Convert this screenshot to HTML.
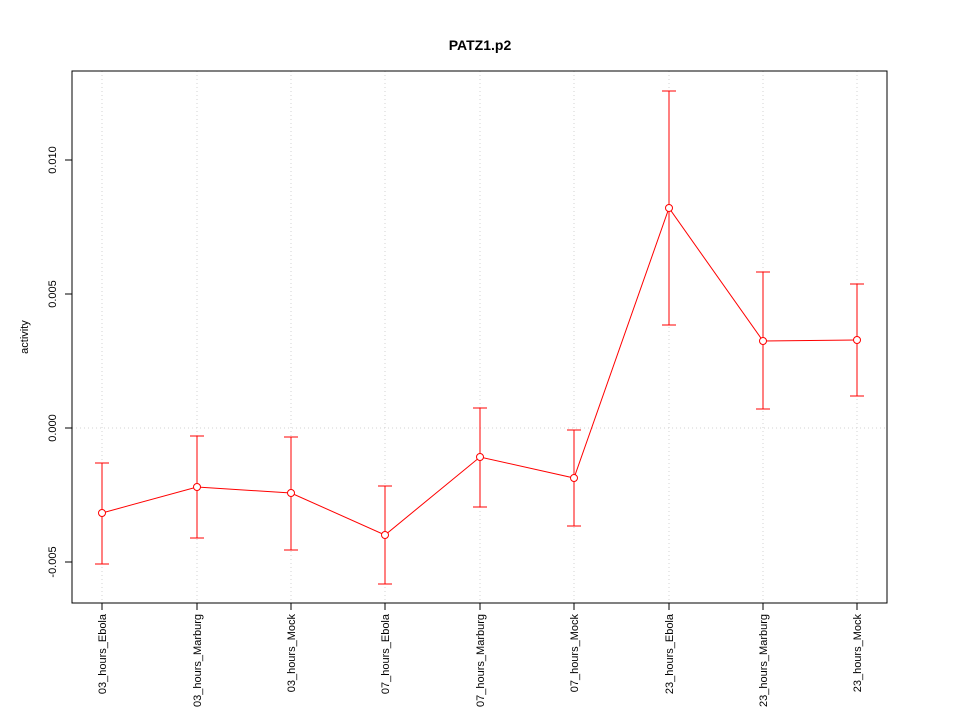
<!DOCTYPE html>
<html><head><meta charset="utf-8"><style>body{margin:0;background:#fff}svg{display:block}</style></head>
<body>
<svg width="960" height="720" xmlns="http://www.w3.org/2000/svg" font-family="Liberation Sans, sans-serif">
<rect width="960" height="720" fill="#fff"/>
<text x="480" y="50" text-anchor="middle" font-size="14" font-weight="bold">PATZ1.p2</text>
<g stroke="#d3d3d3" stroke-dasharray="1,3" stroke-width="1">
<line x1="102" y1="71" x2="102" y2="603"/><line x1="197" y1="71" x2="197" y2="603"/><line x1="291" y1="71" x2="291" y2="603"/>
<line x1="385" y1="71" x2="385" y2="603"/><line x1="480" y1="71" x2="480" y2="603"/><line x1="574" y1="71" x2="574" y2="603"/>
<line x1="669" y1="71" x2="669" y2="603"/><line x1="763" y1="71" x2="763" y2="603"/><line x1="857" y1="71" x2="857" y2="603"/>
<line x1="72" y1="428" x2="887" y2="428"/>
</g>
<rect x="72" y="71" width="815" height="532" fill="none" stroke="#000"/>
<g stroke="#000">
<line x1="65" y1="160" x2="72" y2="160"/><line x1="65" y1="294" x2="72" y2="294"/><line x1="65" y1="428" x2="72" y2="428"/><line x1="65" y1="562" x2="72" y2="562"/>
<line x1="102" y1="603" x2="102" y2="610"/><line x1="197" y1="603" x2="197" y2="610"/><line x1="291" y1="603" x2="291" y2="610"/>
<line x1="385" y1="603" x2="385" y2="610"/><line x1="480" y1="603" x2="480" y2="610"/><line x1="574" y1="603" x2="574" y2="610"/>
<line x1="669" y1="603" x2="669" y2="610"/><line x1="763" y1="603" x2="763" y2="610"/><line x1="857" y1="603" x2="857" y2="610"/>
</g>
<g font-size="11" text-anchor="middle">
<text transform="translate(56,160) rotate(-90)">0.010</text>
<text transform="translate(56,294) rotate(-90)">0.005</text>
<text transform="translate(56,428) rotate(-90)">0.000</text>
<text transform="translate(56,562) rotate(-90)">-0.005</text>
<text transform="translate(28,337) rotate(-90)">activity</text>
</g>
<g font-size="11" text-anchor="end">
<text transform="translate(106,614) rotate(-90)">03_hours_Ebola</text>
<text transform="translate(201,614) rotate(-90)">03_hours_Marburg</text>
<text transform="translate(295,614) rotate(-90)">03_hours_Mock</text>
<text transform="translate(389,614) rotate(-90)">07_hours_Ebola</text>
<text transform="translate(484,614) rotate(-90)">07_hours_Marburg</text>
<text transform="translate(578,614) rotate(-90)">07_hours_Mock</text>
<text transform="translate(673,614) rotate(-90)">23_hours_Ebola</text>
<text transform="translate(767,614) rotate(-90)">23_hours_Marburg</text>
<text transform="translate(861,614) rotate(-90)">23_hours_Mock</text>
</g>
<g stroke="#ff0000" fill="none" stroke-width="1">
<polyline points="102,513 197,487 291,493 385,535 480,457 574,478 669,208 763,341 857,340"/>
<path d="M102,463V564M95,463H109M95,564H109
M197,436V538M190,436H204M190,538H204
M291,437V550M284,437H298M284,550H298
M385,486V584M378,486H392M378,584H392
M480,408V507M473,408H487M473,507H487
M574,430V526M567,430H581M567,526H581
M669,91V325M662,91H676M662,325H676
M763,272V409M756,272H770M756,409H770
M857,284V396M850,284H864M850,396H864"/>
<g fill="#fff">
<circle cx="102" cy="513" r="3.5"/><circle cx="197" cy="487" r="3.5"/><circle cx="291" cy="493" r="3.5"/>
<circle cx="385" cy="535" r="3.5"/><circle cx="480" cy="457" r="3.5"/><circle cx="574" cy="478" r="3.5"/>
<circle cx="669" cy="208" r="3.5"/><circle cx="763" cy="341" r="3.5"/><circle cx="857" cy="340" r="3.5"/>
</g>
</g>
</svg>
</body></html>
